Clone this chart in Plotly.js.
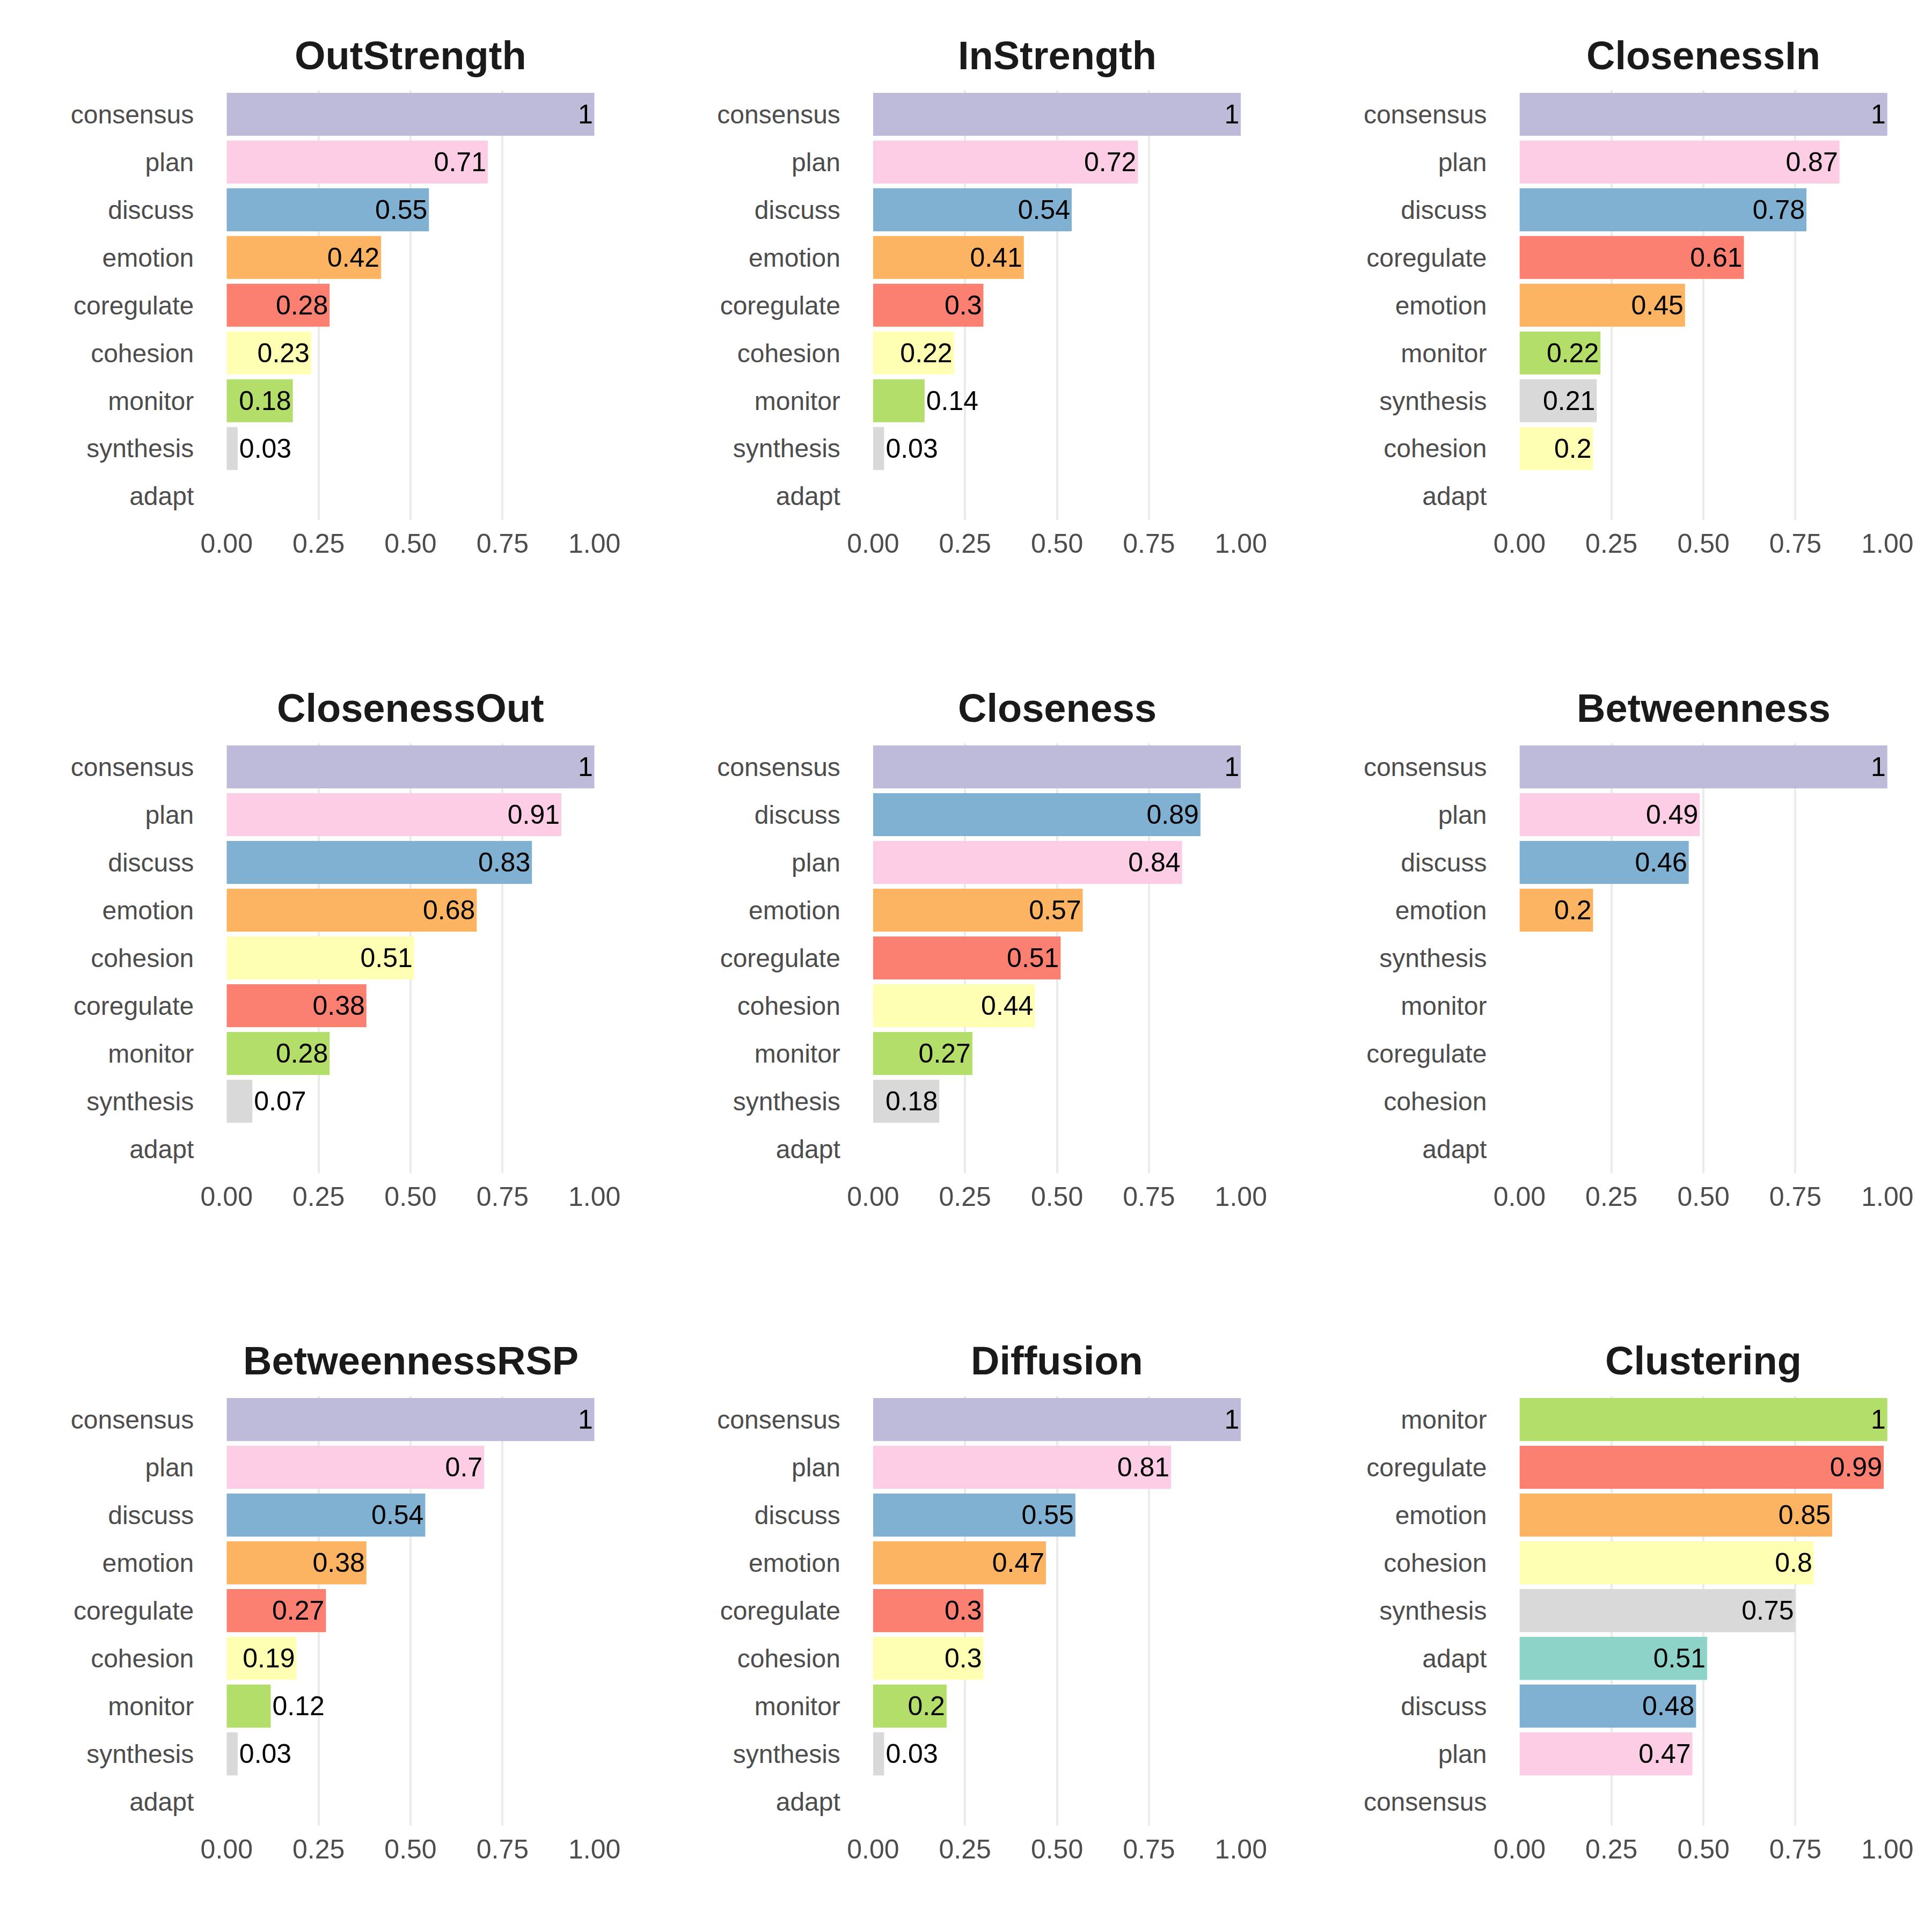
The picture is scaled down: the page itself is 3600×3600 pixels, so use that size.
<!DOCTYPE html>
<html><head><meta charset="utf-8">
<script src="https://cdn.plot.ly/plotly-3.0.1.min.js"></script>
<style>body{margin:0}#chart{width:3600px;height:3600px}</style>
</head><body><div id="chart"></div>
<script>
var titles = ['OutStrength','InStrength','ClosenessIn','ClosenessOut','Closeness','Betweenness','BetweennessRSP','Diffusion','Clustering'];
var cats = [
  ['consensus','plan','discuss','emotion','coregulate','cohesion','monitor','synthesis','adapt'],
  ['consensus','plan','discuss','emotion','coregulate','cohesion','monitor','synthesis','adapt'],
  ['consensus','plan','discuss','coregulate','emotion','monitor','synthesis','cohesion','adapt'],
  ['consensus','plan','discuss','emotion','cohesion','coregulate','monitor','synthesis','adapt'],
  ['consensus','discuss','plan','emotion','coregulate','cohesion','monitor','synthesis','adapt'],
  ['consensus','plan','discuss','emotion','synthesis','monitor','coregulate','cohesion','adapt'],
  ['consensus','plan','discuss','emotion','coregulate','cohesion','monitor','synthesis','adapt'],
  ['consensus','plan','discuss','emotion','coregulate','cohesion','monitor','synthesis','adapt'],
  ['monitor','coregulate','emotion','cohesion','synthesis','adapt','discuss','plan','consensus']
];
var vals = [
  [1,0.71,0.55,0.42,0.28,0.23,0.18,0.03,0],
  [1,0.72,0.54,0.41,0.3,0.22,0.14,0.03,0],
  [1,0.87,0.78,0.61,0.45,0.22,0.21,0.2,0],
  [1,0.91,0.83,0.68,0.51,0.38,0.28,0.07,0],
  [1,0.89,0.84,0.57,0.51,0.44,0.27,0.18,0],
  [1,0.49,0.46,0.2,0,0,0,0,0],
  [1,0.7,0.54,0.38,0.27,0.19,0.12,0.03,0],
  [1,0.81,0.55,0.47,0.3,0.3,0.2,0.03,0],
  [1,0.99,0.85,0.8,0.75,0.51,0.48,0.47,0]
];
var colors = {consensus:'#bebada',plan:'#fccde5',discuss:'#80b1d3',emotion:'#fdb462',
  coregulate:'#fb8072',cohesion:'#ffffb3',monitor:'#b3de69',synthesis:'#d9d9d9',adapt:'#8dd3c7'};

var xd = [[0.1173,0.3077],[0.4519,0.6423],[0.7865,0.9769]];
var yd = [[0.7308,0.9532],[0.3929,0.6154],[0.0551,0.2776]];
var traces = [], layout = {
  width:3600, height:3600, showlegend:false, margin:{l:0,r:0,t:0,b:0},
  paper_bgcolor:'#fff', plot_bgcolor:'#fff',
  font:{family:'Liberation Sans, Arial, sans-serif', color:'#000'}, annotations:[], bargap:0.1
};
for (var i = 0; i < 9; i++) {
  var n = i + 1, r = Math.floor(i/3), c = i % 3;
  var xa = 'xaxis' + (n === 1 ? '' : n), ya = 'yaxis' + (n === 1 ? '' : n);
  traces.push({
    type:'bar', orientation:'h', x:vals[i], y:cats[i],
    xaxis:'x'+(n===1?'':n), yaxis:'y'+(n===1?'':n),
    marker:{color:cats[i].map(function(k){return colors[k];})},
    text:vals[i].map(String), textposition:'auto', insidetextanchor:'end',
    textfont:{size:50,color:'#000'}, insidetextfont:{size:50,color:'#000'},
    outsidetextfont:{size:50,color:'#000'}, cliponaxis:false, hoverinfo:'none'
  });
  layout[xa] = {domain:xd[c], anchor:'y'+(n===1?'':n), range:[0,1.0], fixedrange:true,
    tickvals:[0,0.25,0.5,0.75,1], ticktext:['0.00','0.25','0.50','0.75','1.00'],
    showgrid:true, gridcolor:'#ebebeb', gridwidth:4, zeroline:false, showline:false,
    ticks:'', tickfont:{size:50,color:'#4d4d4d'}, ticklabelstandoff:10};
  layout[ya] = {domain:yd[r], anchor:'x'+(n===1?'':n), type:'category',
    categoryorder:'array', categoryarray:cats[i].slice().reverse(), range:[-0.5,8.5],
    showgrid:false, zeroline:false, showline:false, ticks:'',
    tickfont:{size:48,color:'#4d4d4d'}, ticklabelstandoff:60};
  layout.annotations.push({text:'<b>'+titles[i]+'</b>', xref:'paper', yref:'paper',
    x:(xd[c][0]+xd[c][1])/2, y:yd[r][1]+0.006, xanchor:'center', yanchor:'bottom',
    showarrow:false, font:{size:74,color:'#1a1a1a'}});
}
Plotly.newPlot('chart', traces, layout, {staticPlot:true});
</script></body></html>
